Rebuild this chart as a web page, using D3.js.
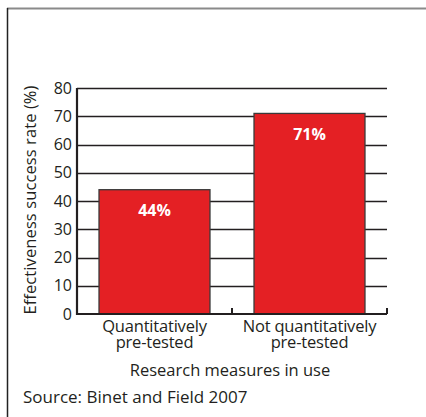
<!DOCTYPE html>
<html>
<head>
<meta charset="utf-8">
<script src="https://cdn.jsdelivr.net/npm/d3@7"></script>
<style>
  html, body { margin: 0; padding: 0; background: #fff; }
  svg { display: block; font-family: "Open Sans", "Liberation Sans", sans-serif; }
</style>
</head>
<body>
<svg id="chart"></svg>
<script>
const categories = ['Quantitatively\npre-tested', 'Not quantitatively\npre-tested'];
const values = [44, 71];
const yTicks = [0, 10, 20, 30, 40, 50, 60, 70, 80];

const width = 426;
const height = 417;
const margin = { top: 88, right: 39, bottom: 103, left: 77 };
const ink = '#231f20';

const svg = d3.select('#chart').attr('width', width).attr('height', height);

// outer frame: grey top rule and dark left rule
svg.append('line')
  .attr('x1', 7).attr('x2', width).attr('y1', 8.5).attr('y2', 8.5)
  .attr('stroke', '#8a8a8a').attr('stroke-width', 2);
svg.append('line')
  .attr('x1', 7.5).attr('x2', 7.5).attr('y1', 8).attr('y2', height)
  .attr('stroke', '#222').attr('stroke-width', 1.5);

const x = d3.scaleBand()
  .domain(categories)
  .range([margin.left, width - margin.right])
  .paddingInner(0.284)
  .paddingOuter(0.142);

const y = d3.scaleLinear()
  .domain([0, 80])
  .range([height - margin.bottom, margin.top]);

// gridlines
svg.append('g')
  .selectAll('line')
  .data(yTicks.filter(d => d > 0))
  .join('line')
  .attr('x1', margin.left)
  .attr('x2', width - margin.right)
  .attr('y1', d => Math.round(y(d)) + 0.5)
  .attr('y2', d => Math.round(y(d)) + 0.5)
  .attr('stroke', ink)
  .attr('stroke-width', 1.3);

// bars
svg.append('g')
  .selectAll('rect')
  .data(values)
  .join('rect')
  .attr('x', (d, i) => x(categories[i]))
  .attr('y', d => y(d))
  .attr('width', x.bandwidth())
  .attr('height', d => y(0) - y(d))
  .attr('fill', '#e42024')
  .attr('stroke', '#3a3a3a')
  .attr('stroke-width', 1.3);

// value labels
svg.append('g')
  .selectAll('text')
  .data(values)
  .join('text')
  .attr('x', (d, i) => x(categories[i]) + x.bandwidth() / 2)
  .attr('y', d => y(d) + 26.5)
  .attr('text-anchor', 'middle')
  .attr('fill', '#fff')
  .style('font-size', '16px')
  .style('font-weight', '700')
  .text(d => d + '%');

// x axis baseline with category boundary ticks
const xAxis = svg.append('g')
  .attr('transform', `translate(0,${y(0)})`)
  .call(d3.axisBottom(x).tickSize(0).tickFormat(''));
xAxis.select('.domain').attr('stroke', ink).attr('stroke-width', 2.2)
  .attr('d', `M${margin.left},0H${width - margin.right}`);
const step = x.step();
xAxis.selectAll('.sep')
  .data([1, 2])
  .join('line')
  .attr('class', 'sep')
  .attr('x1', d => margin.left + d * step)
  .attr('x2', d => margin.left + d * step)
  .attr('y1', 0).attr('y2', -6)
  .attr('stroke', ink).attr('stroke-width', 2);

// category labels (two lines each)
const catLabels = svg.append('g')
  .selectAll('text')
  .data(categories)
  .join('text')
  .attr('x', d => x(d) + x.bandwidth() / 2)
  .attr('y', y(0) + 18)
  .attr('text-anchor', 'middle')
  .attr('fill', ink)
  .style('font-size', '16.5px')
  .style('letter-spacing', '-0.2px');
catLabels.selectAll('tspan')
  .data(d => d.split('\n'))
  .join('tspan')
  .attr('x', function () { return d3.select(this.parentNode).attr('x'); })
  .attr('dy', (d, i) => i === 0 ? 0 : 15.5)
  .text(d => d);

// y axis
const yAxis = svg.append('g')
  .attr('transform', `translate(${margin.left},0)`)
  .call(d3.axisLeft(y).tickValues(yTicks).tickSize(0).tickPadding(5));
yAxis.select('.domain').attr('stroke', ink).attr('stroke-width', 2.2)
  .attr('d', `M0,${y(0) + 1}V${y(80)}`);
yAxis.selectAll('text')
  .attr('fill', ink)
  .style('font-size', '16px')
  .style('font-family', '"Open Sans", "Liberation Sans", sans-serif');

// axis titles
svg.append('text')
  .attr('transform', `translate(36,${(y(0) + y(80)) / 2 - 1}) rotate(-90)`)
  .attr('text-anchor', 'middle')
  .attr('fill', ink)
  .style('font-size', '16.5px')
  .style('letter-spacing', '0.1px')
  .text('Effectiveness success rate (%)');

svg.append('text')
  .attr('x', (margin.left + width - margin.right) / 2 - 2)
  .attr('y', 376)
  .attr('text-anchor', 'middle')
  .attr('fill', ink)
  .style('font-size', '16.5px')
  .text('Research measures in use');

svg.append('text')
  .attr('x', 23)
  .attr('y', 403)
  .attr('fill', ink)
  .style('font-size', '17px')
  .text('Source: Binet and Field 2007');
</script>
</body>
</html>
